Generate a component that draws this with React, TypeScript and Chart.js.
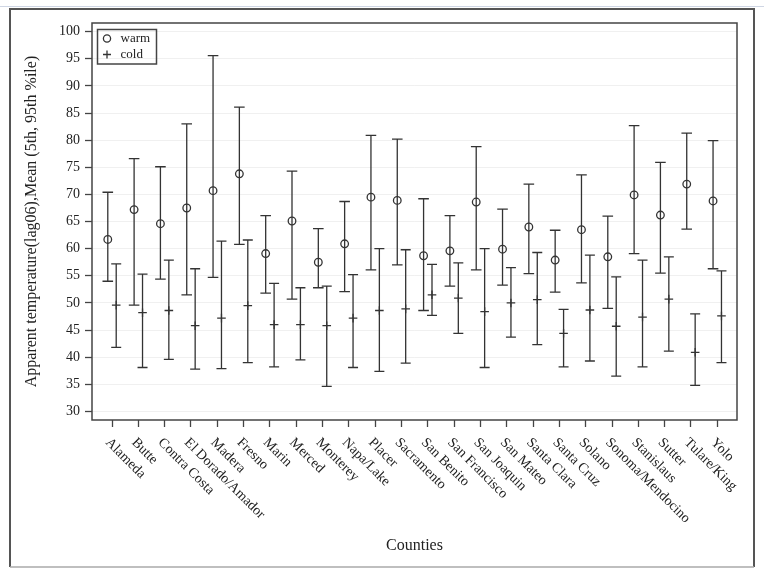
import React, { useEffect, useRef } from 'react';
import { Chart, registerables } from 'chart.js';

Chart.register(...registerables);

const categories = [
  'Alameda', 'Butte', 'Contra Costa', 'El Dorado/Amador', 'Madera', 'Fresno',
  'Marin', 'Merced', 'Monterey', 'Napa/Lake', 'Placer', 'Sacramento',
  'San Benito', 'San Francisco', 'San Joaquin', 'San Mateo', 'Santa Clara', 'Santa Cruz',
  'Solano', 'Sonoma/Mendocino', 'Stanislaus', 'Sutter', 'Tulare/King', 'Yolo',
];

const warmMean = [61.7, 67.2, 64.6, 67.5, 70.7, 73.8, 59.1, 65.1, 57.5, 60.9, 69.5, 68.9, 58.7, 59.6, 68.6, 59.9, 64.0, 57.9, 63.5, 58.5, 69.9, 66.2, 71.9, 68.8];
const warmLow = [54.0, 49.6, 54.4, 51.5, 54.7, 60.8, 51.8, 50.7, 52.8, 52.1, 56.1, 57.0, 48.6, 53.1, 56.1, 53.3, 55.4, 52.0, 53.7, 49.0, 59.1, 55.5, 63.6, 56.3];
const warmHigh = [70.4, 76.6, 75.1, 83.0, 95.6, 86.1, 66.1, 74.3, 63.7, 68.7, 80.9, 80.2, 69.2, 66.1, 78.8, 67.3, 71.9, 63.4, 73.6, 66.0, 82.7, 75.9, 81.3, 79.9];

const coldMean = [49.6, 48.2, 48.6, 45.8, 47.2, 49.5, 46.0, 46.0, 45.8, 47.2, 48.6, 48.9, 51.5, 50.9, 48.4, 50.0, 50.6, 44.4, 48.7, 45.7, 47.4, 50.7, 40.9, 47.6];
const coldLow = [41.8, 38.1, 39.6, 37.8, 37.9, 39.0, 38.2, 39.5, 34.6, 38.1, 37.4, 38.9, 47.7, 44.4, 38.1, 43.7, 42.3, 38.2, 39.3, 36.5, 38.2, 41.1, 34.8, 39.0];
const coldHigh = [57.2, 55.3, 57.9, 56.3, 61.4, 61.6, 53.6, 52.8, 53.1, 55.2, 60.0, 59.8, 57.1, 57.4, 60.0, 56.5, 59.3, 48.8, 58.8, 54.8, 57.9, 58.5, 48.0, 55.9];

const yTicks = [30, 35, 40, 45, 50, 55, 60, 65, 70, 75, 80, 85, 90, 95, 100];
const seriesNames = ['warm', 'cold'];
const yTitle = 'Apparent temperature(lag06),Mean (5th, 95th %ile)';
const xTitle = 'Counties';

const OFFSET = 0.16;
const FONT = "'Liberation Serif', 'Times New Roman', serif";
const INK = '#333333';

const errorBars = {
  id: 'errorBars',
  beforeDatasetsDraw(chart: any) {
    const { ctx, scales } = chart;
    const x = scales.x;
    const y = scales.y;
    ctx.save();
    ctx.strokeStyle = INK;
    ctx.lineWidth = 1.3;
    const draw = (xv: number, lo: number, hi: number, cap: number) => {
      const px = x.getPixelForValue(xv);
      const pLo = y.getPixelForValue(lo);
      const pHi = y.getPixelForValue(hi);
      ctx.beginPath();
      ctx.moveTo(px, pLo);
      ctx.lineTo(px, pHi);
      ctx.moveTo(px - cap, pLo);
      ctx.lineTo(px + cap, pLo);
      ctx.moveTo(px - cap, pHi);
      ctx.lineTo(px + cap, pHi);
      ctx.stroke();
    };
    categories.forEach((_, i) => {
      draw(i - OFFSET, warmLow[i], warmHigh[i], 5.3);
      draw(i + OFFSET, coldLow[i], coldHigh[i], 5);
    });
    ctx.restore();
  },
};

const decorations = {
  id: 'decorations',
  afterDraw(chart: any) {
    const { ctx, chartArea, scales } = chart;
    const x = scales.x;
    ctx.save();
    // plot frame
    ctx.strokeStyle = '#444';
    ctx.lineWidth = 1.5;
    ctx.strokeRect(chartArea.left, chartArea.top, chartArea.right - chartArea.left, chartArea.bottom - chartArea.top);

    // rotated x labels
    ctx.fillStyle = '#222';
    ctx.font = `14px ${FONT}`;
    ctx.textAlign = 'left';
    ctx.textBaseline = 'middle';
    categories.forEach((label, i) => {
      const px = x.getPixelForValue(i);
      ctx.save();
      ctx.translate(px - 4.5, chartArea.bottom + 20.5);
      ctx.rotate(Math.PI / 4);
      ctx.fillText(label, 0, 0);
      ctx.restore();
    });

    // legend
    const lx = chartArea.left + 5.5;
    const ly = chartArea.top + 6.5;
    ctx.strokeStyle = '#444';
    ctx.lineWidth = 1.5;
    ctx.strokeRect(lx, ly, 59, 34.5);
    ctx.lineWidth = 1.3;
    ctx.strokeStyle = INK;
    ctx.beginPath();
    ctx.arc(lx + 9.5, ly + 9, 3.6, 0, Math.PI * 2);
    ctx.stroke();
    ctx.beginPath();
    ctx.moveTo(lx + 5.5, ly + 25);
    ctx.lineTo(lx + 13.5, ly + 25);
    ctx.moveTo(lx + 9.5, ly + 21);
    ctx.lineTo(lx + 9.5, ly + 29);
    ctx.stroke();
    ctx.fillStyle = '#222';
    ctx.font = `13px ${FONT}`;
    ctx.textAlign = 'left';
    ctx.textBaseline = 'middle';
    ctx.fillText(seriesNames[0], lx + 23, ly + 9);
    ctx.fillText(seriesNames[1], lx + 23, ly + 25);

    // outer frame
    ctx.strokeStyle = '#cfd6e4';
    ctx.lineWidth = 1;
    ctx.beginPath();
    ctx.moveTo(0, 6.5);
    ctx.lineTo(764, 6.5);
    ctx.stroke();
    ctx.strokeStyle = '#555';
    ctx.lineWidth = 2;
    ctx.beginPath();
    ctx.moveTo(10, 567);
    ctx.lineTo(10, 9);
    ctx.lineTo(754, 9);
    ctx.lineTo(754, 567);
    ctx.stroke();
    ctx.strokeStyle = '#aaa';
    ctx.lineWidth = 1.5;
    ctx.beginPath();
    ctx.moveTo(10, 567);
    ctx.lineTo(754, 567);
    ctx.stroke();
    ctx.restore();
  },
};

export default function App() {
  const canvasRef = useRef<HTMLCanvasElement | null>(null);

  useEffect(() => {
    const canvas = canvasRef.current;
    if (!canvas) return;
    const chart = new Chart(canvas, {
      type: 'scatter',
      data: {
        datasets: [
          {
            label: seriesNames[0],
            data: categories.map((_, i) => ({ x: i - OFFSET, y: warmMean[i] })),
            pointStyle: 'circle',
            pointRadius: 3.8,
            pointBorderWidth: 1.3,
            borderColor: INK,
            backgroundColor: 'rgba(0,0,0,0)',
            showLine: false,
          },
          {
            label: seriesNames[1],
            data: categories.map((_, i) => ({ x: i + OFFSET, y: coldMean[i] })),
            pointStyle: 'cross',
            pointRadius: 4.3,
            pointBorderWidth: 1.3,
            borderColor: INK,
            backgroundColor: INK,
            showLine: false,
          },
        ],
      },
      options: {
        responsive: false,
        animation: false,
        devicePixelRatio: 1,
        layout: { padding: { left: 0, top: 23, right: 27, bottom: 0 } },
        plugins: {
          legend: { display: false },
          tooltip: { enabled: false },
        },
        scales: {
          x: {
            type: 'linear',
            min: -0.76,
            max: 23.75,
            afterBuildTicks: (axis: any) => {
              axis.ticks = categories.map((_, i) => ({ value: i }));
            },
            afterFit: (axis: any) => {
              axis.height = 156;
            },
            ticks: { display: false },
            grid: {
              drawOnChartArea: false,
              drawTicks: true,
              tickLength: 7,
              tickColor: '#444',
              tickWidth: 1.3,
            },
            border: { display: false },
            title: {
              display: true,
              text: xTitle,
              color: '#222',
              font: { family: FONT, size: 16 },
              padding: { top: 0, bottom: 21 },
            },
          },
          y: {
            type: 'linear',
            min: 28.42,
            max: 101.6,
            afterBuildTicks: (axis: any) => {
              axis.ticks = yTicks.map((v) => ({ value: v }));
            },
            afterFit: (axis: any) => {
              axis.width = 92;
            },
            ticks: {
              color: '#222',
              font: { family: FONT, size: 14 },
              padding: 5,
            },
            grid: {
              color: 'rgba(0,0,0,0.06)',
              lineWidth: 1,
              drawTicks: true,
              tickLength: 7,
              tickColor: '#444',
              tickWidth: 1.3,
            },
            border: { display: false },
            title: {
              display: true,
              text: yTitle,
              color: '#222',
              font: { family: FONT, size: 16 },
              padding: { top: 22, bottom: 0 },
            },
          },
        },
      },
      plugins: [errorBars, decorations],
    } as any);
    return () => chart.destroy();
  }, []);

  return (
    <div style={{ position: 'fixed', left: 0, top: 0, width: 764, height: 576, background: '#fff' }}>
      <canvas ref={canvasRef} width={764} height={576} style={{ display: 'block' }} />
    </div>
  );
}
